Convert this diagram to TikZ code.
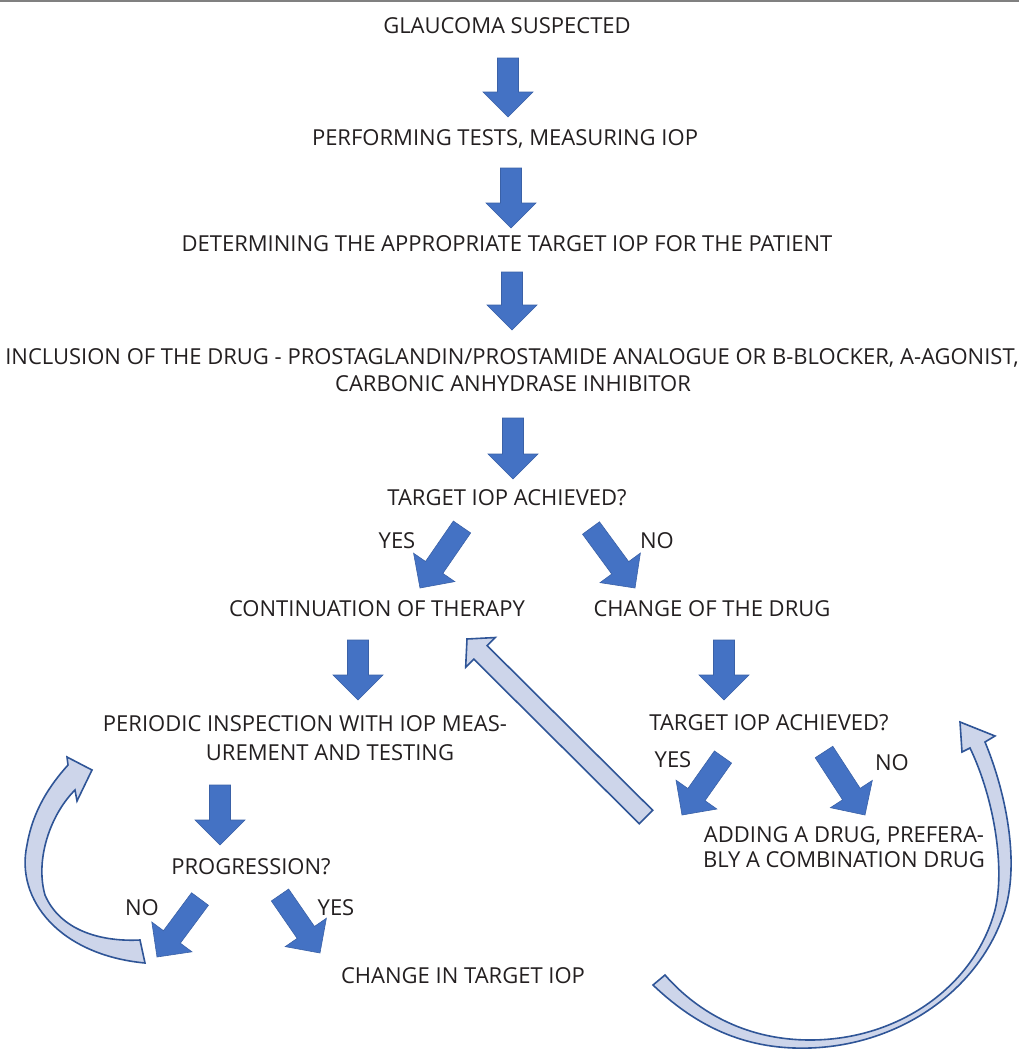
\documentclass[tikz,border=0pt]{standalone}
\usepackage{fontspec}
\setmainfont{Open Sans}
\usetikzlibrary{calc}

\definecolor{arrowblue}{HTML}{4472C4}
\definecolor{edgeblue}{HTML}{2F5597}
\definecolor{loopblue}{HTML}{CDD5EA}
\definecolor{inktext}{HTML}{231F20}

\tikzset{
	flowtext/.style={anchor=base, text=inktext, inner sep=0pt, font=\fontsize{22}{26}\selectfont},
	darrow/.style={fill=arrowblue, draw=arrowblue!85!black, line width=0.6pt, line join=miter},
	larrow/.style={fill=loopblue, draw=edgeblue, line width=1.6pt, line join=miter},
}

% block arrow: style, from, to, half shaft, half head, head length
\newcommand{\blockarrow}[6]{
	\coordinate (BAh) at ($(#3)!#6!(#2)$);
	\draw[#1] ($(#2)!#4!90:(#3)$) -- ($(BAh)!#4!90:(#3)$) -- ($(BAh)!#5!90:(#3)$) -- (#3)
		-- ($(BAh)!#5!-90:(#3)$) -- ($(BAh)!#4!-90:(#3)$) -- ($(#2)!#4!-90:(#3)$) -- cycle;
}
\newcommand{\stepdown}[2]{\blockarrow{darrow}{#1}{#2}{10.5pt}{25pt}{25pt}}

\begin{document}
\begin{tikzpicture}[x=1pt, y=-1pt]
\useasboundingbox (0,0) rectangle (1019,1050);
\draw[gray, line width=2pt] (0,1) -- (1019,1);

% main column
\node[flowtext] (suspect) at (507,33) {GLAUCOMA SUSPECTED};
\node[flowtext] (tests) at (505,145) {PERFORMING TESTS, MEASURING IOP};
\node[flowtext] (target) at (507,251) {DETERMINING THE APPROPRIATE TARGET IOP FOR THE PATIENT};
\node[flowtext] (drugA) at (512,364) {INCLUSION OF THE DRUG - PROSTAGLANDIN/PROSTAMIDE ANALOGUE OR B-BLOCKER, A-AGONIST,};
\node[flowtext] (drugB) at (513,391) {CARBONIC ANHYDRASE INHIBITOR};
\node[flowtext] (achievedA) at (507,505) {TARGET IOP ACHIEVED?};
\node[flowtext] (yesA) at (397,548) {YES};
\node[flowtext] (noA) at (657,548) {NO};
\node[flowtext] (continue) at (377,616) {CONTINUATION OF THERAPY};
\node[flowtext] (change) at (712,616) {CHANGE OF THE DRUG};

% left branch
\node[flowtext] (periodA) at (305,731) {PERIODIC INSPECTION WITH IOP MEAS-};
\node[flowtext] (periodB) at (330,760) {UREMENT AND TESTING};
\node[flowtext] (progress) at (251,874) {PROGRESSION?};
\node[flowtext] (noC) at (142,915) {NO};
\node[flowtext] (yesC) at (336,915) {YES};
\node[flowtext] (newtarget) at (463,983) {CHANGE IN TARGET IOP};

% right branch
\node[flowtext] (achievedB) at (769,730) {TARGET IOP ACHIEVED?};
\node[flowtext] (yesB) at (673,767) {YES};
\node[flowtext] (noB) at (892,770) {NO};
\node[flowtext] (addA) at (844,842) {ADDING A DRUG, PREFERA-};
\node[flowtext] (addB) at (844,867) {BLY A COMBINATION DRUG};

% arrow ends
\coordinate (a1s) at (508,58);  \coordinate (a1e) at (508,117);
\coordinate (a2s) at (511,168); \coordinate (a2e) at (511,228);
\coordinate (a3s) at (512,272); \coordinate (a3e) at (512,330);
\coordinate (a4s) at (513,418); \coordinate (a4e) at (513,479);
\coordinate (ys) at (462,527);  \coordinate (ye) at (420,588);
\coordinate (ns) at (591,528);  \coordinate (ne) at (635,588);
\coordinate (cs) at (358,640);  \coordinate (ce) at (358,700);
\coordinate (ds) at (724,640);  \coordinate (de) at (724,700);
\coordinate (ps) at (220,785);  \coordinate (pe) at (220,845);
\coordinate (pns) at (200,899); \coordinate (pne) at (157,957);
\coordinate (pys) at (280,895); \coordinate (pye) at (320,953);
\coordinate (bys) at (723,757); \coordinate (bye) at (682,815);
\coordinate (bns) at (824,752); \coordinate (bne) at (865,815);
\coordinate (backs) at (646,817); \coordinate (backe) at (467,639);

\stepdown{a1s}{a1e}
\stepdown{a2s}{a2e}
\stepdown{a3s}{a3e}
\stepdown{a4s}{a4e}
\stepdown{ys}{ye}
\stepdown{ns}{ne}
\stepdown{cs}{ce}
\stepdown{ds}{de}
\stepdown{ps}{pe}
\stepdown{pns}{pne}
\stepdown{pys}{pye}
\stepdown{bys}{bye}
\stepdown{bns}{bne}

% back to therapy
\blockarrow{larrow}{backs}{backe}{9.5pt}{21pt}{19pt}

% loop back to inspection
\draw[larrow] (145,963) .. controls (60,955) and (15,900) .. (27,845)
	.. controls (33,810) and (50,785) .. (68,765) -- (67,757) -- (92,770) -- (77,801) -- (75,790)
	.. controls (50,815) and (35,860) .. (45,895) .. controls (60,930) and (100,942) .. (140,940) -- cycle;

% loop back to second check
\draw[larrow] (653,985) .. controls (700,1030) and (750,1050) .. (810,1048)
	.. controls (900,1045) and (980,990) .. (1005,910) .. controls (1020,860) and (1005,790) .. (985,742)
	-- (995,736) -- (960,722) -- (962,752) -- (970,748)
	.. controls (995,800) and (1005,870) .. (995,910) .. controls (975,985) and (900,1040) .. (810,1040)
	.. controls (750,1040) and (700,1015) .. (665,975) -- cycle;
\end{tikzpicture}
\end{document}
